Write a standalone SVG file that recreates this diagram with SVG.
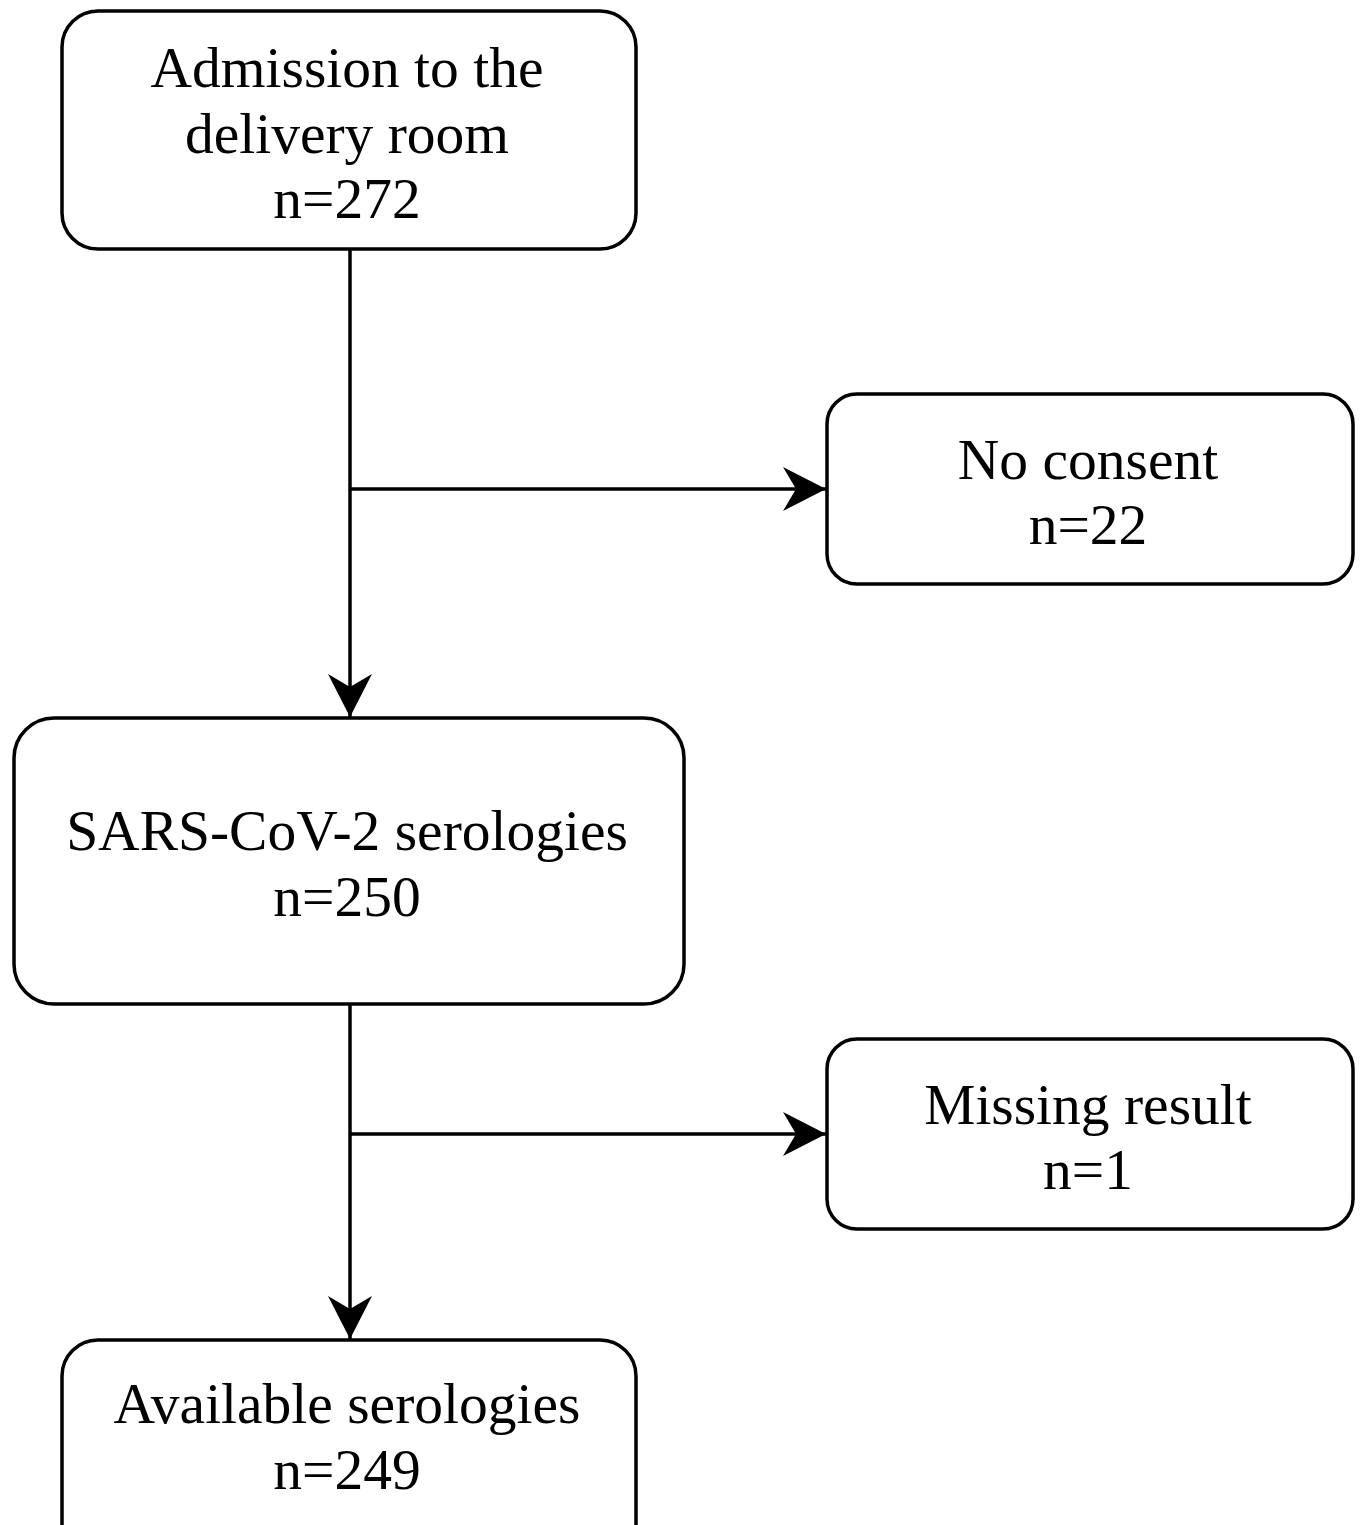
<svg xmlns="http://www.w3.org/2000/svg" width="1361" height="1525" viewBox="0 0 1361 1525">
<style>
.box{fill:#fff;stroke:#000;stroke-width:3.5}
.t{font-family:"Liberation Serif","Times New Roman",serif;font-size:57.5px;fill:#000;text-anchor:middle}
.c{stroke:#000;stroke-width:3.5;fill:none}
</style>
<defs>
<marker id="ah" markerUnits="userSpaceOnUse" markerWidth="50" markerHeight="50" viewBox="-44 -25 46 50" refX="0" refY="0" orient="auto">
<path d="M0,0 L-43,-22 L-30,0 L-43,22 Z" fill="#000"/>
</marker>
</defs>
<rect width="1361" height="1525" fill="#fff"/>
<g id="connectors">
<line class="c" x1="350" y1="249" x2="350" y2="717" marker-end="url(#ah)"/>
<line class="c" x1="350" y1="489" x2="826" y2="489" marker-end="url(#ah)"/>
<line class="c" x1="350" y1="1004" x2="350" y2="1339" marker-end="url(#ah)"/>
<line class="c" x1="350" y1="1134" x2="826" y2="1134" marker-end="url(#ah)"/>
</g>
<g id="admission">
<rect class="box" x="62" y="11" width="574" height="238" rx="36"/>
<text class="t" x="347" y="87">Admission to the</text>
<text class="t" x="347" y="153">delivery room</text>
<text class="t" x="347" y="218">n=272</text>
</g>
<g id="noconsent">
<rect class="box" x="827" y="394" width="526" height="190" rx="30"/>
<text class="t" x="1088" y="479">No consent</text>
<text class="t" x="1088" y="544">n=22</text>
</g>
<g id="sars">
<rect class="box" x="14" y="718" width="670" height="286" rx="40"/>
<text class="t" x="347" y="850">SARS-CoV-2 serologies</text>
<text class="t" x="347" y="916">n=250</text>
</g>
<g id="missing">
<rect class="box" x="827" y="1039" width="526" height="190" rx="30"/>
<text class="t" x="1088" y="1124">Missing result</text>
<text class="t" x="1088" y="1189">n=1</text>
</g>
<g id="available">
<rect class="box" x="62" y="1340" width="574" height="220" rx="36"/>
<text class="t" x="347" y="1423">Available serologies</text>
<text class="t" x="347" y="1489">n=249</text>
</g>
</svg>
